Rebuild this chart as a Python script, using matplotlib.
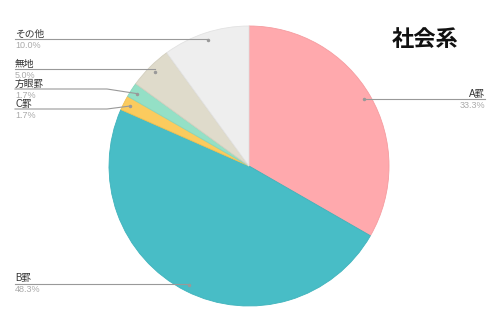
import matplotlib
matplotlib.use("Agg")
import matplotlib.pyplot as plt
import numpy as np

plt.rcParams['font.family'] = ['Liberation Sans', 'Noto Sans CJK JP', 'DejaVu Sans']

title = "社会系"
labels = ["A罫", "B罫", "C罫", "方眼罫", "無地", "その他"]
values = [33.3, 48.3, 1.7, 1.7, 5.0, 10.0]
colors = ["#FFA9AD", "#48BDC6", "#FBCB5E", "#94E0C6", "#DFDBCB", "#EEEEEE"]
edges = ["#F59CA0", "#3FB3BC", "#F0C050", "#88D6BC", "#D3CFBF", "#E2E2E2"]

W, H = 500, 333
fig = plt.figure(figsize=(5, 3.33), dpi=100)
ax = fig.add_axes([0, 0, 1, 1])
cx, cy, R = 249, H - 166, 140

wedges, _ = ax.pie(values, colors=colors, startangle=90, counterclock=False,
                   center=(cx, cy), radius=R,
                   wedgeprops=dict(linewidth=0.6))
for w, ec in zip(wedges, edges):
    w.set_edgecolor(ec)

ax.set_xlim(0, W)
ax.set_ylim(0, H)
ax.set_aspect('equal')
ax.axis('off')

# label line heights (pixels from top)
label_y = {"A罫": 99, "B罫": 284, "C罫": 109, "方眼罫": 89, "無地": 69, "その他": 39}

total = sum(values)
cum = 0
for lab, v in zip(labels, values):
    mid = (cum + v / 2) / total * 360
    cum += v
    ang = np.deg2rad(90 - mid)
    px = cx + 0.95 * R * np.cos(ang)
    py = cy + 0.95 * R * np.sin(ang)
    ly = H - label_y[lab]
    pct = f"{v:.1f}%"
    if px > cx:
        ax.plot([px, 485], [ly, ly], color="#999999", lw=0.8)
        tx, ha = 485, 'right'
    else:
        if abs(py - ly) < 3:
            ax.plot([15, px], [ly, ly], color="#999999", lw=0.8)
        else:
            ax.plot([15, 107, px], [ly, ly, py], color="#999999", lw=0.8)
        tx, ha = 15, 'left'
    ax.text(tx, ly + 2.5, lab, ha=ha, va='baseline', fontsize=7, color="#333333")
    ax.text(tx, ly - 8.5, pct, ha=ha, va='baseline', fontsize=6.5, color="#AAAAAA")
    ax.plot([px], [py], marker='o', ms=1.5, color="#999999")

ax.text(425, H - 40, title, ha='center', va='center', fontsize=16, fontweight='bold', color="#111111")

fig.savefig("out.png", dpi=100)
